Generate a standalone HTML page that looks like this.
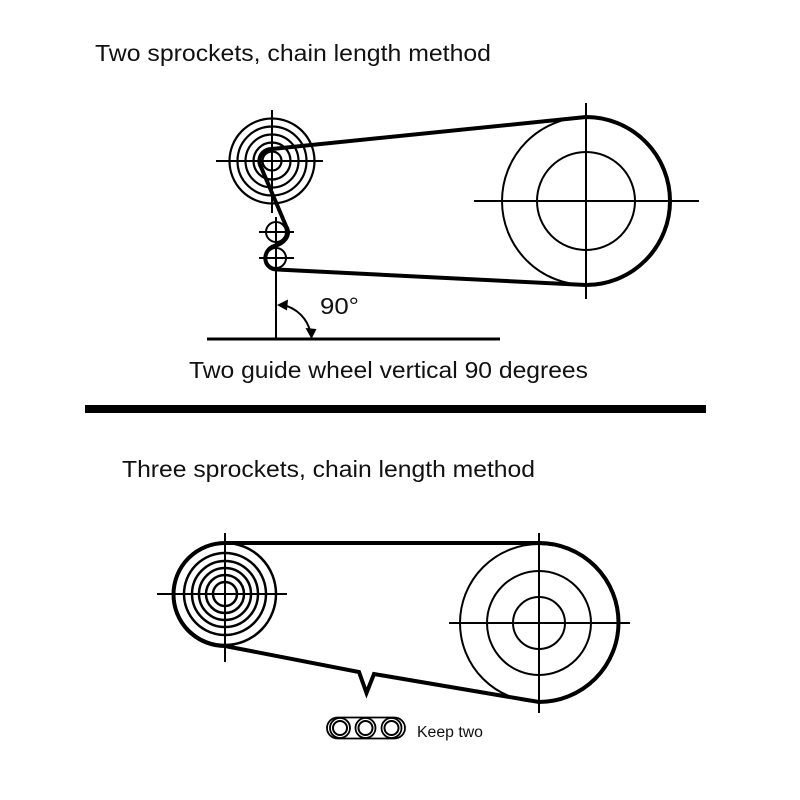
<!DOCTYPE html>
<html>
<head>
<meta charset="utf-8">
<style>
html,body{margin:0;padding:0;background:#fff;}
svg{display:block;}
text{font-family:"Liberation Sans",Arial,sans-serif;fill:#111;}
</style>
</head>
<body>
<svg width="800" height="800" viewBox="0 0 800 800" xmlns="http://www.w3.org/2000/svg">
<rect width="800" height="800" fill="#fff"/>

<!-- Titles -->
<text x="95" y="61" font-size="23.5" textLength="396" lengthAdjust="spacingAndGlyphs">Two sprockets, chain length method</text>
<text x="189" y="378" font-size="23.5" textLength="399" lengthAdjust="spacingAndGlyphs">Two guide wheel vertical 90 degrees</text>
<text x="122" y="477" font-size="23.5" textLength="413" lengthAdjust="spacingAndGlyphs">Three sprockets, chain length method</text>

<!-- separator -->
<rect x="85" y="405" width="621" height="8" fill="#000"/>

<!-- ===== TOP DIAGRAM ===== -->
<g fill="none" stroke="#000" stroke-width="2.2">
  <circle cx="272" cy="161" r="42.5"/>
  <circle cx="272" cy="161" r="34.5"/>
  <circle cx="272" cy="161" r="26.5"/>
  <circle cx="272" cy="161" r="18.5"/>
  <circle cx="272" cy="161" r="9.5"/>
</g>
<g fill="none" stroke="#000" stroke-width="2">
  <line x1="216" y1="161" x2="323" y2="161"/>
  <line x1="272" y1="110" x2="272" y2="213"/>
  <!-- guide wheels -->
  <circle cx="276" cy="232" r="10"/>
  <circle cx="276" cy="258" r="10"/>
  <line x1="259" y1="232" x2="294" y2="232"/>
  <line x1="259" y1="258" x2="294" y2="258"/>
  <line x1="276" y1="217" x2="276" y2="272"/>
  <!-- big wheel -->
  <circle cx="586" cy="201" r="84"/>
  <circle cx="586" cy="201" r="49"/>
  <line x1="474" y1="201" x2="699" y2="201"/>
  <line x1="586" y1="103" x2="586" y2="299"/>
  <!-- vertical to baseline -->
  <line x1="276" y1="268" x2="276" y2="340"/>
  <!-- angle arc -->
  <path d="M 282 305 A 35 35 0 0 1 310.5 333"/>
</g>
<!-- baseline -->
<line x1="207" y1="339" x2="500" y2="339" stroke="#000" stroke-width="3"/>
<!-- arrowheads -->
<polygon points="277,305 288,299.5 287,310.5" fill="#000"/>
<polygon points="311.5,339 305.5,328 316.5,329" fill="#000"/>
<text x="320" y="314" font-size="23" textLength="39" lengthAdjust="spacingAndGlyphs">90°</text>

<!-- chain top -->
<path d="M 586 117 L 272 149 A 12 12 0 0 0 261 167 L 286 226 C 292 236, 283 244, 274 246 C 262 250, 262 269, 277 269.5 L 586 285 A 84 84 0 0 0 586 117 Z"
 fill="none" stroke="#000" stroke-width="4" stroke-linejoin="round"/>

<!-- ===== BOTTOM DIAGRAM ===== -->
<g fill="none" stroke="#000" stroke-width="2.5">
  <circle cx="225" cy="594" r="51"/>
  <circle cx="225" cy="594" r="41"/>
  <circle cx="225" cy="594" r="33"/>
  <circle cx="225" cy="594" r="26"/>
  <circle cx="225" cy="594" r="19"/>
  <circle cx="225" cy="594" r="12"/>
</g>
<g fill="none" stroke="#000" stroke-width="2">
  <line x1="157" y1="594" x2="287" y2="594"/>
  <line x1="225" y1="533" x2="225" y2="662"/>
  <circle cx="539" cy="623" r="79"/>
  <circle cx="539" cy="623" r="52"/>
  <circle cx="539" cy="623" r="26"/>
  <line x1="449" y1="623" x2="630" y2="623"/>
  <line x1="539" y1="533" x2="539" y2="713"/>
</g>
<!-- chain bottom -->
<path d="M 225 543 L 539 543 A 79.5 79.5 0 0 1 539 702 L 374 674 L 366.5 693 L 359 672 L 225 646 A 51.5 51.5 0 0 1 225 543 Z"
 fill="none" stroke="#000" stroke-width="4" stroke-linejoin="miter"/>

<!-- chain link icon -->
<g fill="none" stroke="#000">
  <rect x="327" y="717.5" width="78" height="21" rx="10.5" ry="10.5" fill="#fff" stroke-width="1.8"/>
  <circle cx="340" cy="728" r="10" fill="#fff" stroke-width="1.8"/>
  <circle cx="365.5" cy="728" r="10" fill="#fff" stroke-width="1.8"/>
  <circle cx="391.5" cy="728" r="10" fill="#fff" stroke-width="1.8"/>
  <circle cx="340" cy="728" r="7" stroke-width="2"/>
  <circle cx="365.5" cy="728" r="7" stroke-width="2"/>
  <circle cx="391.5" cy="728" r="7" stroke-width="2"/>
</g>
<text x="417" y="737" font-size="15.5" textLength="66" lengthAdjust="spacingAndGlyphs">Keep two</text>
</svg>
</body>
</html>
